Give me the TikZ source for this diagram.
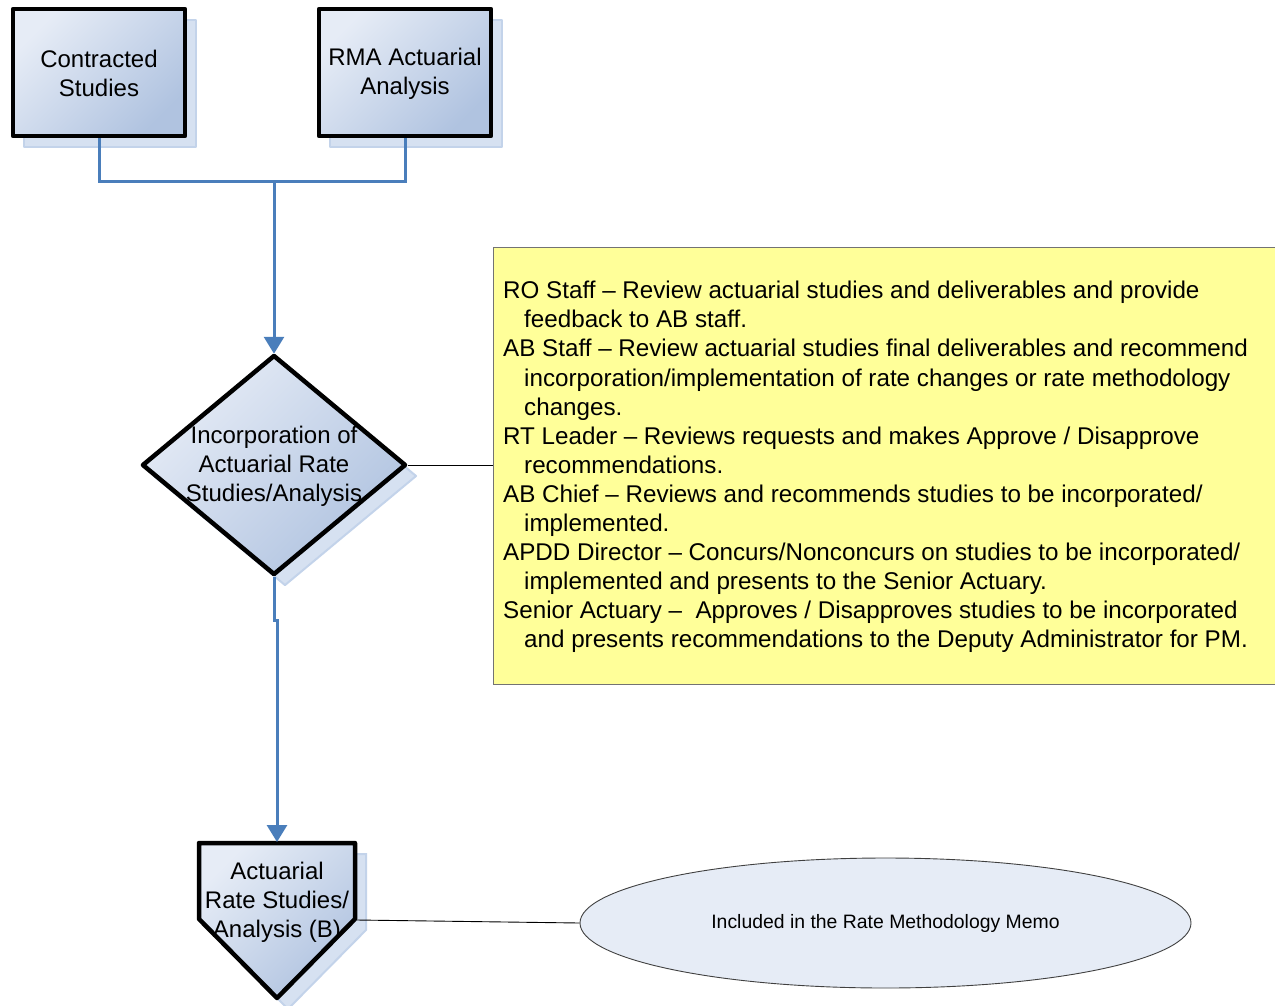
\documentclass[tikz,border=0pt]{standalone}
\usepackage{fontspec}
\setmainfont{Liberation Sans}
\usetikzlibrary{shapes.geometric,shadows,arrows.meta}
\definecolor{gl}{HTML}{E6ECF6}
\definecolor{gd}{HTML}{B0C3E0}
\definecolor{shf}{HTML}{D6E1F1}
\definecolor{she}{HTML}{C3D3EA}
\definecolor{conblue}{HTML}{4A7EBB}
\definecolor{memo}{HTML}{FFFF99}
\definecolor{ellf}{HTML}{E6ECF6}
\tikzset{
  shp/.style={draw=black, line width=4.5pt, line join=round, top color=gl, bottom color=gd, shading angle=45,
    general shadow={shadow xshift=11pt, shadow yshift=-11pt, fill=shf, draw=she, line width=2pt}},
  boxtxt/.style={font=\fontsize{24}{29}\selectfont, align=center, inner sep=0pt},
  conn/.style={draw=conblue, line width=3pt},
  arr/.style={-{Triangle[width=20pt,length=17pt]}, shorten >=-1pt},
  thin/.style={draw=black, line width=0.9pt},
}
\begin{document}
\begin{tikzpicture}[x=1pt,y=-1pt]
\useasboundingbox (0,0) rectangle (1275,1005);
% top boxes
\node[shp, rectangle, minimum width=172pt, minimum height=127pt, inner sep=0pt] (cs) at (99,72.5) {};
\node[boxtxt] (cst) at ([yshift=-1pt]cs.center) {Contracted\\Studies};
\node[shp, rectangle, minimum width=172pt, minimum height=127pt, inner sep=0pt] (rma) at (405,72.5) {};
\node[boxtxt] (rmat) at ([yshift=-1pt]rma.center) {RMA Actuarial\\Analysis};
% junction
\coordinate (j) at (274,181);
\draw[conn] (cs.south) -- (cs.south |- j) -- (rma.south |- j) -- (rma.south);
% diamond
\node[shp, diamond, minimum width=264pt, minimum height=220pt, inner sep=0pt] (d) at (274,465) {};
\node[boxtxt] (dt) at ([yshift=-1pt]d.center) {Incorporation of\\Actuarial Rate\\Studies/Analysis};
\draw[conn, arr] (j) -- (d.north);
% yellow memo box
\node[draw=black!55, line width=0.9pt, fill=memo, rectangle, minimum width=797pt, minimum height=437pt, inner sep=0pt] (yb) at (891.5,465.5) {};
\node[anchor=west, align=left, inner sep=0pt, font=\fontsize{24.2}{29.08}\selectfont] (notes) at (503,467) {%
RO Staff – Review actuarial studies and deliverables and provide\\
\hspace*{21pt}feedback to AB staff.\\
AB Staff – Review actuarial studies final deliverables and recommend\\
\hspace*{21pt}incorporation/implementation of rate changes or rate methodology\\
\hspace*{21pt}changes.\\
RT Leader – Reviews requests and makes Approve / Disapprove\\
\hspace*{21pt}recommendations.\\
AB Chief – Reviews and recommends studies to be incorporated/\\
\hspace*{21pt}implemented.\\
APDD Director – Concurs/Nonconcurs on studies to be incorporated/\\
\hspace*{21pt}implemented and presents to the Senior Actuary.\\
Senior Actuary –\ \ Approves / Disapproves studies to be incorporated\\
\hspace*{21pt}and presents recommendations to the Deputy Administrator for PM.};
\draw[thin] (d.east) -- (d.east -| yb.west);
% pentagon
\coordinate (ptop) at (277,841);
\coordinate (pright) at (357,920);
\path[shp] (199,843) -- (355,843) -- (355,919) -- (277,998) -- (199,919) -- cycle;
\node[boxtxt] (pt) at (277,902) {Actuarial\\Rate Studies/\\Analysis (B)};
\draw[conn, arr] (d.south) -- ++(0,43) -| (ptop);
% ellipse
\node[ellipse, draw=black!75, line width=0.9pt, fill=ellf, minimum width=611pt, minimum height=130pt, inner sep=0pt,
  font=\fontsize{19.4}{23}\selectfont] (memo) at (885.5,923) {Included in the Rate Methodology Memo};
\draw[thin] (pright) -- (memo.west);
\end{tikzpicture}
\end{document}
